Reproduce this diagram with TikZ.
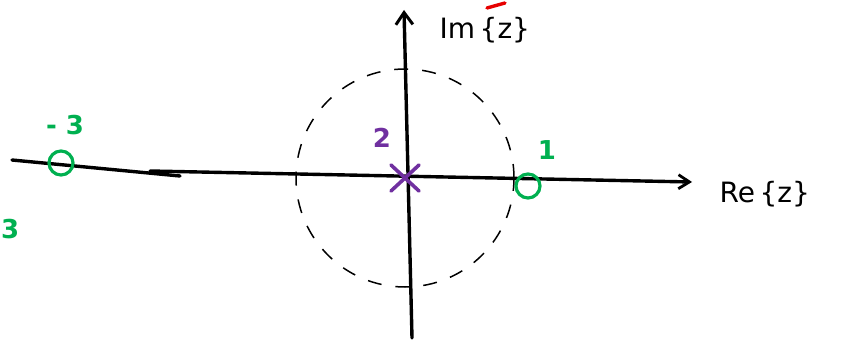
\documentclass[tikz,border=0pt]{standalone}
\usepackage{fontspec}
\setmainfont{DejaVu Sans}
\usetikzlibrary{arrows.meta,calc}
\definecolor{zgreen}{RGB}{0,176,80}
\definecolor{ppurple}{RGB}{112,48,160}
\definecolor{mred}{RGB}{230,0,0}
\begin{document}
\begin{tikzpicture}[x=1pt,y=-1pt,
  axis/.style={line width=3.4pt,line cap=round},
  ink/.style={font=\fontsize{28}{30}\selectfont},
  zero/.style={draw=zgreen,line width=3.2pt,circle,minimum width=24pt,minimum height=21pt,inner sep=0pt},
  glab/.style={text=zgreen,font=\fontsize{26}{28}\selectfont\bfseries},
  plab/.style={text=ppurple,font=\fontsize{26}{28}\selectfont\bfseries}]
\useasboundingbox (0,0) rectangle (848,347);
% axes
\coordinate (xs) at (12,160);
\coordinate (xm) at (180,176);
\coordinate (xe) at (692,182);
\coordinate (ys) at (412,338);
\coordinate (ye) at (404,10);
\draw[axis] (xs) -- (xm);
\draw[axis,-{Straight Barb[length=11pt,width=14pt,line width=2.8pt]}] (150,171) -- (xe);
\draw[axis,-{Straight Barb[length=12pt,width=17pt,line width=3pt]}] (ys) -- (ye);
% unit circle
\node[draw,circle,minimum size=218pt,line width=1.5pt,dash pattern=on 14pt off 14pt] (uc) at (405,178) {};
% pole
\coordinate (p) at (405,178);
\draw[ppurple,line width=3.6pt,line cap=round] ($(p)+(-14,-13)$) -- ($(p)+(14,13)$) ($(p)+(-14,13)$) -- ($(p)+(14,-13)$);
\node[plab] (pl) at (382,138) {2};
% zeros
\node[zero] (z1) at (528,186) {};
\node[glab] (z1l) at (547,150) {1};
\node[zero] (z2) at (61,163) {};
\node[glab] (z2l) at (65,125) {- 3};
\node[glab,anchor=west,inner sep=0pt] (z3l) at (1,229) {3};
% labels
\node[ink,anchor=west] (im) at (436,30) {Im\,\{z\}};
\node[ink,anchor=west] (re) at (716,194) {Re\,\{z\}};
\draw[mred,line width=3.4pt,line cap=round] (487,8) -- (505,3);
\end{tikzpicture}
\end{document}
